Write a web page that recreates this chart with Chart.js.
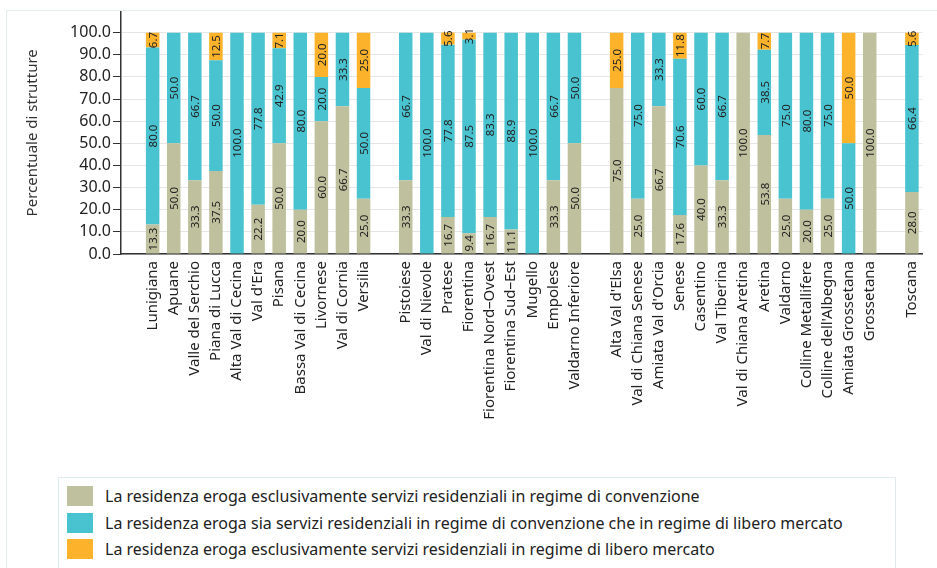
<!DOCTYPE html>
<html lang="it">
<head>
<meta charset="utf-8">
<title>Percentuale di strutture per zona</title>
<script src="https://cdn.jsdelivr.net/npm/chart.js@4/dist/chart.umd.min.js"></script>
<style>
    html, body { margin: 0; padding: 0; background: #fff; }
    body { width: 937px; height: 568px; position: relative; overflow: hidden; font-family: 'Noto Sans', sans-serif; }
    .frame { position: absolute; left: 6px; top: 10px; width: 1000px; height: 700px; border: 1px solid #e2eeee; }
    #chart { position: absolute; left: 0; top: 0; }
    .legend { position: absolute; left: 58px; top: 477px; width: 838px; height: 100px; border: 1px solid #dfeced; box-sizing: border-box; padding-top: 5px; }
    .legend-item { display: flex; align-items: center; height: 26.5px; color: #222; font-size: 16px; }
    .legend-box { width: 26px; height: 20px; margin-left: 8px; margin-right: 12px; }
</style>
</head>
<body>
<div class="frame"></div>
<canvas id="chart" width="937" height="470"></canvas>
<div class="legend" id="legend"></div>

<script>
// ---- dati (zone con separatori '' tra le aree vaste) ----
const categories = [
    '',
    'Lunigiana', 'Apuane', 'Valle del Serchio', 'Piana di Lucca', 'Alta Val di Cecina', "Val d'Era",
    'Pisana', 'Bassa Val di Cecina', 'Livornese', 'Val di Cornia', 'Versilia',
    '',
    'Pistoiese', 'Val di Nievole', 'Pratese', 'Fiorentina', 'Fiorentina Nord–Ovest', 'Fiorentina Sud–Est',
    'Mugello', 'Empolese', 'Valdarno Inferiore',
    '',
    "Alta Val d'Elsa", 'Val di Chiana Senese', "Amiata Val d'Orcia", 'Senese', 'Casentino', 'Val Tiberina',
    'Val di Chiana Aretina', 'Aretina', 'Valdarno', 'Colline Metallifere', "Colline dell'Albegna",
    'Amiata Grossetana', 'Grossetana',
    '',
    'Toscana'
];

// solo convenzione
const convenzione = [
    null,
    13.3, 50.0, 33.3, 37.5, 0, 22.2, 50.0, 20.0, 60.0, 66.7, 25.0,
    null,
    33.3, 0, 16.7, 9.4, 16.7, 11.1, 0, 33.3, 50.0,
    null,
    75.0, 25.0, 66.7, 17.6, 40.0, 33.3, 100.0, 53.8, 25.0, 20.0, 25.0, 0, 100.0,
    null,
    28.0
];

// convenzione e libero mercato
const entrambi = [
    null,
    80.0, 50.0, 66.7, 50.0, 100.0, 77.8, 42.9, 80.0, 20.0, 33.3, 50.0,
    null,
    66.7, 100.0, 77.8, 87.5, 83.3, 88.9, 100.0, 66.7, 50.0,
    null,
    0, 75.0, 33.3, 70.6, 60.0, 66.7, 0, 38.5, 75.0, 80.0, 75.0, 50.0, 0,
    null,
    66.4
];

// solo libero mercato
const liberoMercato = [
    null,
    6.7, 0, 0, 12.5, 0, 0, 7.1, 0, 20.0, 0, 25.0,
    null,
    0, 0, 5.6, 3.1, 0, 0, 0, 0, 0,
    null,
    25.0, 0, 0, 11.8, 0, 0, 0, 7.7, 0, 0, 0, 50.0, 0,
    null,
    5.6
];

const yTicks = [0, 10, 20, 30, 40, 50, 60, 70, 80, 90, 100];

const seriesNames = [
    'La residenza eroga esclusivamente servizi residenziali in regime di convenzione',
    'La residenza eroga sia servizi residenziali in regime di convenzione che in regime di libero mercato',
    'La residenza eroga esclusivamente servizi residenziali in regime di libero mercato'
];
const seriesColors = ['#bfc09d', '#4ac3d0', '#fcb22a'];

const FONT = "'Noto Sans', sans-serif";

// ---- etichette dei valori dentro le barre ----
const barLabels = {
    id: 'barLabels',
    afterDatasetsDraw(chart) {
        const ctx = chart.ctx;
        ctx.save();
        ctx.font = '11.5px ' + FONT;
        ctx.fillStyle = '#222';
        ctx.textAlign = 'center';
        ctx.textBaseline = 'middle';
        chart.data.datasets.forEach((ds, di) => {
            const meta = chart.getDatasetMeta(di);
            meta.data.forEach((bar, i) => {
                const v = ds.data[i];
                if (!v) return;
                const p = bar.getProps(['x', 'y', 'base'], true);
                ctx.save();
                ctx.translate(p.x, (p.y + p.base) / 2);
                ctx.rotate(-Math.PI / 2);
                ctx.fillText(v.toFixed(1), 0, 1);
                ctx.restore();
            });
        });
        ctx.restore();
    }
};

const datasets = [convenzione, entrambi, liberoMercato].map((data, i) => ({
    label: seriesNames[i],
    data: data,
    backgroundColor: seriesColors[i],
    borderWidth: 0,
    barPercentage: 0.64,
    categoryPercentage: 1
}));

new Chart(document.getElementById('chart'), {
    type: 'bar',
    data: { labels: categories, datasets: datasets },
    plugins: [barLabels],
    options: {
        responsive: false,
        animation: false,
        layout: { padding: { left: 0, top: 11, right: 7, bottom: 0 } },
        plugins: {
            legend: { display: false },
            tooltip: { enabled: false }
        },
        scales: {
            x: {
                stacked: true,
                grid: { display: false, drawTicks: false },
                border: { display: true, color: '#333', width: 1.5 },
                ticks: {
                    autoSkip: false,
                    minRotation: 90,
                    maxRotation: 90,
                    padding: 7,
                    color: '#222',
                    font: { family: FONT, size: 15 }
                },
                afterFit(scale) { scale.height = 216; }
            },
            y: {
                stacked: true,
                min: 0,
                max: 109.5,
                afterBuildTicks(scale) {
                    scale.ticks = yTicks.map((v) => ({ value: v }));
                },
                grid: { color: '#e6e6e6', tickColor: '#333', tickLength: 8, lineWidth: 1 },
                border: { display: true, color: '#333', width: 1.5 },
                ticks: {
                    padding: 2,
                    color: '#222',
                    font: { family: FONT, size: 16 },
                    callback: (v) => Number(v).toFixed(1)
                },
                title: {
                    display: true,
                    text: 'Percentuale di strutture',
                    color: '#333',
                    font: { family: FONT, size: 15 },
                    padding: { top: 24, bottom: 0 }
                },
                afterFit(scale) { scale.width = 121; }
            }
        }
    }
});

// ---- legenda ----
document.getElementById('legend').innerHTML = seriesNames.map((name, i) => `
    <div class="legend-item">
        <span class="legend-box" style="background:${seriesColors[i]}"></span>
        <span>${name}</span>
    </div>
`).join('');
</script>
</body>
</html>
